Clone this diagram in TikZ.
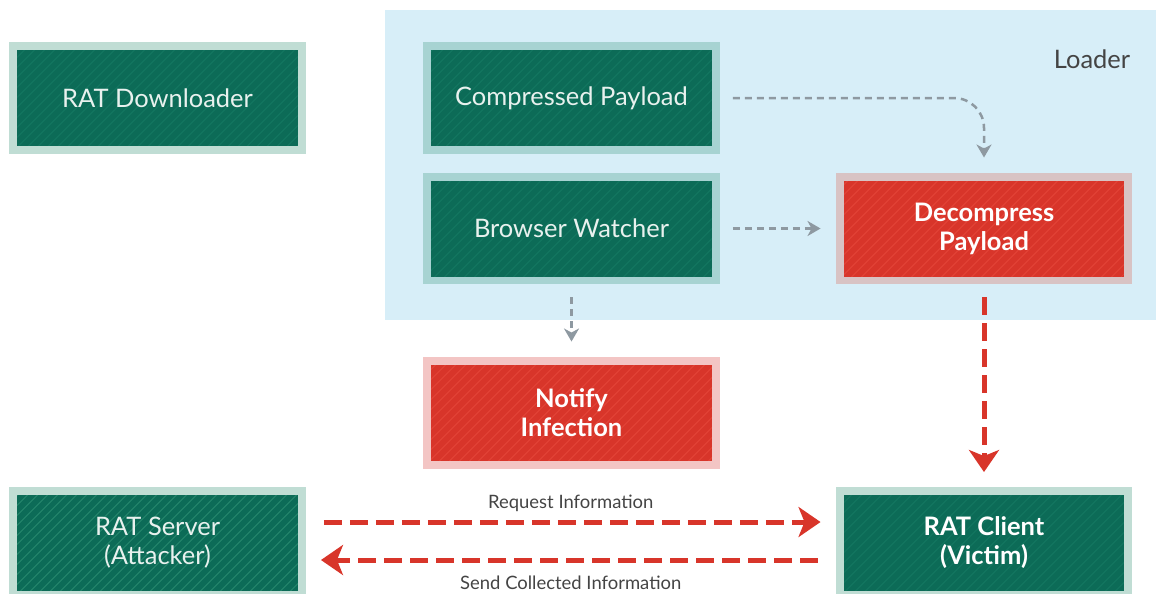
\documentclass[tikz,border=0pt]{standalone}
\usepackage{fontspec}
\setmainfont{Lato}
\usetikzlibrary{arrows.meta}
\usetikzlibrary{patterns.meta}
\definecolor{loaderbg}{HTML}{D7EEF8}
\definecolor{ratgreen}{HTML}{0C6B57}
\definecolor{greenhatch}{HTML}{157A63}
\definecolor{serverhatch}{HTML}{2A8C70}
\definecolor{greenrim}{HTML}{C0DDD4}
\definecolor{tealrim}{HTML}{A7D3D2}
\definecolor{ratred}{HTML}{D8352A}
\definecolor{redhatch}{HTML}{E5463A}
\definecolor{mauverim}{HTML}{D8C3C4}
\definecolor{pinkrim}{HTML}{F3C5C4}
\definecolor{flowgray}{HTML}{8E99A1}
\definecolor{boxtext}{HTML}{E8F1EE}
\definecolor{labelgray}{HTML}{444444}

\begin{document}
\begin{tikzpicture}[
		x=0.02cm, y=-0.02cm,
		box/.style={minimum width=5.78cm, minimum height=2.08cm, inner sep=0pt,
			outer sep=0.08cm, align=center, font=\fontsize{14.5}{16.5}\selectfont},
		greenbox/.style={box, fill=ratgreen, text=boxtext, pattern color=greenhatch,
			postaction={pattern={Lines[angle=45,distance=4pt,line width=0.5pt]}},
			postaction={draw=#1, line width=0.16cm}},
		redbox/.style={box, fill=ratred, text=white, pattern color=redhatch,
			font=\fontsize{14.5}{16.5}\selectfont\bfseries,
			postaction={pattern={Lines[angle=45,distance=4pt,line width=0.5pt]}},
			postaction={draw=#1, line width=0.16cm}},
		flow/.style={-{Stealth[length=0.26cm, width=0.3cm, inset=0.08cm]}, draw=flowgray,
			line width=0.05cm, dash pattern=on 0.14cm off 0.1cm,
			shorten <=0.26cm, shorten >=0.3cm},
		link/.style={-{Stealth[length=0.44cm, width=0.6cm, inset=0.12cm]}, draw=ratred,
			line width=0.1cm, dash pattern=on 0.36cm off 0.16cm,
			shorten <=0.36cm, shorten >=0.3cm},
		tag/.style={text=labelgray, font=\fontsize{10.5}{12}\selectfont},
	]
		\useasboundingbox (0,0) rectangle (1156,593);
		\clip (0,0) rectangle (1156,593);

		% loader area
		\fill[loaderbg] (385,10) rectangle (1156,320);
		\node[text=labelgray, font=\fontsize{14.5}{16}\selectfont] (loader) at (1092,59) {Loader};

		% boxes
		\node[greenbox=greenrim] (dl) at (157.5,98) {RAT Downloader};
		\node[greenbox=tealrim] (cp) at (571.5,98) {Compressed Payload};
		\node[greenbox=tealrim] (bw) at (571.5,228.5) {Browser Watcher};
		\node[redbox=mauverim] (dp) at (984,228.5) {Decompress\\Payload};
		\node[redbox=pinkrim] (ni) at (571.5,412.5) {Notify\\Infection};
		\node[greenbox=greenrim, pattern color=serverhatch] (srv) at (157.5,543) {RAT Server\\(Attacker)};
		\node[greenbox=greenrim, font=\fontsize{14.5}{16.5}\selectfont\bfseries, text=white] (cl) at (984,543) {RAT Client\\(Victim)};

		% flows
		\draw[flow, rounded corners=0.6cm] (cp.east) -| (dp.north);
		\draw[flow] (bw.east) -- (dp.west);
		\draw[flow] (bw.south) -- (ni.north);
		\draw[link, shorten <=0.26cm] (dp.south) -- (cl.north);
		\draw[link] ([yshift=0.42cm]srv.east) -- ([yshift=0.42cm]cl.west)
			node[tag, midway, above=0.04cm] {Request Information};
		\draw[link] ([yshift=-0.34cm]cl.west) -- ([yshift=-0.34cm]srv.east)
			node[tag, midway, below=0.16cm] {Send Collected Information};
	\end{tikzpicture}
\end{document}
